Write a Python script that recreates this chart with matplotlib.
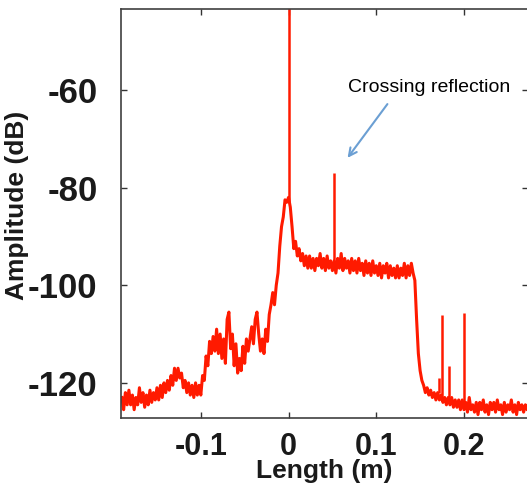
import numpy as np
import matplotlib
matplotlib.use("Agg")
import matplotlib.pyplot as plt

plt.rcParams['font.family'] = ['Liberation Sans', 'DejaVu Sans']

# OFDR trace, sampled every 2 mm starting at -0.190 m
x_start = -0.190
x_step = 0.002
trace_db = [
    -123.0, -125.5, -122.0, -124.5, -121.5, -124.5, -122.5, -125.5, -123.0, -124.5,
    -121.0, -124.0, -122.0, -125.0, -122.5, -124.5, -121.5, -124.0, -122.0, -123.5,
    -121.0, -123.5, -120.5, -123.0, -120.0, -122.0, -119.5, -121.5, -118.5, -120.5,
    -117.0, -119.5, -117.0, -119.0, -118.0, -121.0, -119.5, -122.0, -120.0, -122.5,
    -120.5, -123.0, -120.0, -122.5, -120.5, -122.5, -118.5, -119.5, -114.5, -116.5,
    -111.5, -114.0, -110.5, -113.5, -109.0, -114.0, -110.0, -115.0, -111.0, -116.0,
    -107.0, -105.5, -113.0, -110.0, -116.5, -112.0, -118.0, -115.0, -117.5, -112.5,
    -116.0, -111.0, -113.5, -111.0, -108.5, -112.0, -107.0, -105.5, -110.0, -113.5,
    -111.0, -114.0, -109.0, -111.5, -106.0, -104.0, -101.5, -104.0, -100.0, -97.5,
    -92.0, -88.0, -86.0, -82.5, -83.0, -82.0, -84.0, -88.0, -92.5, -91.0,
    -94.0, -92.5, -95.0, -93.5, -96.0, -94.0, -96.5, -94.0, -96.5, -94.5,
    -97.0, -94.5, -96.0, -93.5, -96.5, -94.5, -97.0, -94.0, -96.5, -95.0,
    -97.0, -95.0, -97.5, -94.5, -96.5, -93.5, -97.0, -94.5, -96.5, -95.0,
    -97.5, -94.5, -97.0, -95.0, -97.5, -94.5, -97.0, -95.5, -98.0, -95.0,
    -97.5, -95.5, -98.0, -95.0, -97.5, -96.0, -98.0, -95.5, -98.5, -96.0,
    -97.5, -95.5, -98.5, -96.0, -98.0, -96.5, -98.5, -96.0, -98.5, -96.5,
    -98.0, -95.5, -98.5, -96.0, -98.0, -95.5, -97.5, -99.0, -107.0, -114.0,
    -117.5, -119.5, -120.5, -122.0, -121.0, -122.5, -121.5, -123.0, -122.0, -123.5,
    -122.0, -123.5, -122.5, -124.0, -123.0, -124.5, -123.0, -124.5, -123.0, -125.0,
    -123.5, -125.0, -123.5, -125.5, -123.5, -125.5, -124.0, -126.0, -123.0, -125.5,
    -124.5, -126.0, -124.0, -126.5, -124.0, -125.5, -123.5, -126.0, -124.5, -126.5,
    -124.0, -125.5, -124.0, -126.0, -123.5, -125.5, -124.5, -126.5, -124.0, -126.0,
    -124.5, -125.5, -123.5, -126.0, -124.5, -126.5, -124.0, -125.5, -124.5, -126.0,
    -124.5, -125.5, -124.0, -126.0,
]
trace_x = x_start + x_step * np.arange(len(trace_db))

# narrow reflection peaks
spike_x = [0.0, 0.052, 0.171, 0.1745, 0.1835, 0.2006]
spike_base = [-83.0, -96.0, -122.0, -123.0, -124.0, -124.5]
spike_top = [-40.0, -77.0, -119.0, -106.0, -116.5, -105.7]

x_ticks = [-0.1, 0, 0.1, 0.2]
x_ticklabels = ['-0.1', '0', '0.1', '0.2']
y_ticks = [-120, -100, -80, -60]
y_ticklabels = ['-120', '-100', '-80', '-60']

red = '#ff1a00'
ink = '#1a1a1a'

fig = plt.figure(figsize=(5.27, 4.91), dpi=100)
ax = fig.add_axes([121 / 527, 73 / 491, 407 / 527, 409 / 491])

ax.plot(trace_x, trace_db, color=red, lw=2.2)
ax.vlines(spike_x, spike_base, spike_top, color=red, lw=1.8)

ax.set_xlim(-0.191, 0.273)
ax.set_ylim(-127.2, -43.4)
ax.set_xticks(x_ticks)
ax.set_xticklabels(x_ticklabels)
ax.set_yticks(y_ticks)
ax.set_yticklabels(y_ticklabels)

ax.tick_params(direction='in', top=True, right=True, length=4, width=1,
               color='#333333', labelcolor=ink)
ax.tick_params(axis='x', labelsize=22, pad=10)
ax.tick_params(axis='y', labelsize=25, pad=17)
for lab in ax.get_xticklabels() + ax.get_yticklabels():
    lab.set_fontweight('bold')
for sp in ax.spines.values():
    sp.set_color('#404040')
    sp.set_linewidth(1.2)

ax.set_xlabel('Length (m)', fontsize=19, fontweight='bold', color=ink, labelpad=-2)
ax.set_ylabel('Amplitude (dB)', fontsize=19, fontweight='bold', color=ink)
ax.yaxis.set_label_coords(-0.226, 0.52)

ax.annotate('Crossing reflection', xy=(0.0673, -73.9), xytext=(0.1608, -59.4),
            fontsize=14, ha='center', va='center', color='black',
            arrowprops=dict(arrowstyle='->', color='#6b9fd3', lw=1.5,
                            shrinkA=0, shrinkB=0,
                            relpos=(0.24, -0.5)))

fig.savefig('out.png', dpi=100)
